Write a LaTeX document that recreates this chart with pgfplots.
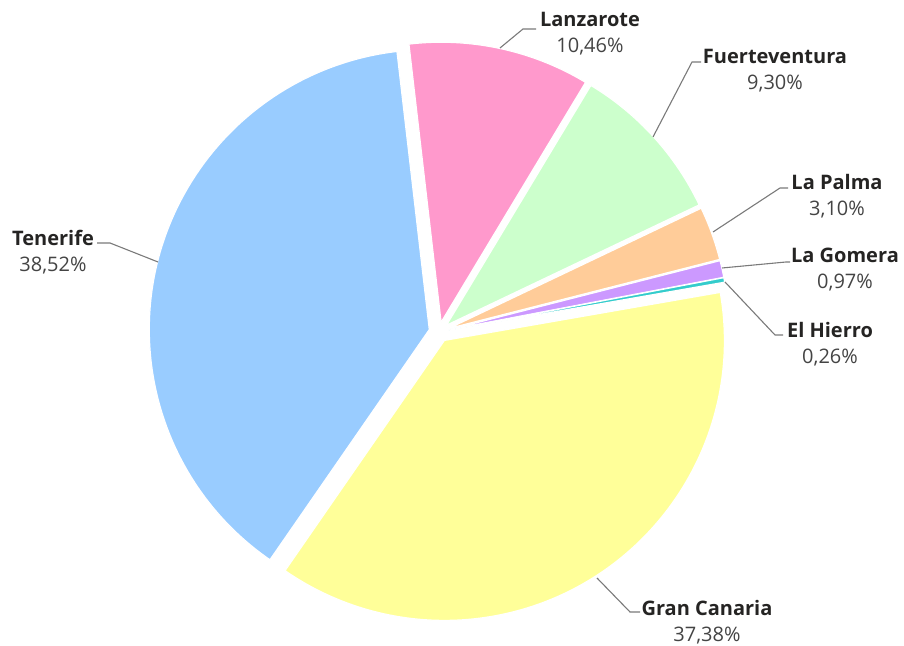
\documentclass[border=0pt]{standalone}
\usepackage{pgfplots}
\usepackage{pgfplotstable}
\pgfplotsset{compat=1.18}
\usepackage{fontspec}
\setmainfont{Open Sans}
\definecolor{cLan}{HTML}{FF99CC}
\definecolor{cFue}{HTML}{CCFFCC}
\definecolor{cPal}{HTML}{FFCC99}
\definecolor{cGom}{HTML}{CC99FF}
\definecolor{cHie}{HTML}{33CCCC}
\definecolor{cGra}{HTML}{FFFF99}
\definecolor{cTen}{HTML}{99CCFF}
\definecolor{nameC}{HTML}{252423}
\definecolor{pctC}{HTML}{444444}
\definecolor{lineC}{HTML}{7A7A7A}

% share of each island (percent), in clockwise order
\pgfplotstableread[col sep=comma]{
name,value,col
Lanzarote,10.46,cLan
Fuerteventura,9.30,cFue
La Palma,3.10,cPal
La Gomera,0.97,cGom
El Hierro,0.26,cHie
Gran Canaria,37.38,cGra
Tenerife,38.52,cTen
}\piedata

\newcommand{\plabel}[4]{%
  \node[font=\fontsize{10}{12}\selectfont\bfseries, text=nameC, anchor=center, inner sep=0pt] at (axis cs:#1,#2) {#3};
  \node[font=\fontsize{10}{12}\selectfont, text=pctC, anchor=center, inner sep=0pt] at (axis cs:#1,#2-28) {#4};
}

\begin{document}
\begin{tikzpicture}
\pgfplotstablegetrowsof{\piedata}
\pgfmathtruncatemacro\nrows{\pgfplotsretval-1}
\begin{axis}[hide axis, scale only axis, width=452pt, height=323pt,
  xmin=0, xmax=904, ymin=0, ymax=646, clip=false]
\path (axis cs:0,0) rectangle (axis cs:904,646);
\def\acc{0}
\pgfplotsforeachungrouped \i in {0,...,\nrows}{%
  \pgfplotstablegetelem{\i}{value}\of{\piedata}\let\val\pgfplotsretval
  \pgfplotstablegetelem{\i}{col}\of{\piedata}\let\col\pgfplotsretval
  \pgfmathsetmacro\astart{96.6-3.6*\acc}
  \pgfmathsetmacro\aend{96.6-3.6*(\acc+\val)}
  \pgfmathsetmacro\amid{(\astart+\aend)/2}
  \pgfmathsetmacro\ox{439+10*cos(\amid)}
  \pgfmathsetmacro\oy{314+10*sin(\amid)}
  \edef\temp{\noexpand\fill[fill=\col, draw=white, line width=0.6pt, line join=round] (axis cs:\ox,\oy) -- ++(\astart:140pt) arc[start angle=\astart, end angle=\aend, radius=140pt] -- cycle;}%
  \temp
  \pgfmathsetmacro\acc{\acc+\val}
}
% leader lines
\draw[lineC, line width=0.55pt] (axis cs:500,598) -- (axis cs:523,617) -- (axis cs:536,617);
\draw[lineC, line width=0.55pt] (axis cs:653,509) -- (axis cs:692,584) -- (axis cs:701,584);
\draw[lineC, line width=0.55pt] (axis cs:713,414) -- (axis cs:780,458) -- (axis cs:788,458);
\draw[lineC, line width=0.55pt] (axis cs:722,378) -- (axis cs:786,384) -- (axis cs:790,384);
\draw[lineC, line width=0.55pt] (axis cs:725,364) -- (axis cs:775,311) -- (axis cs:783,311);
\draw[lineC, line width=0.55pt] (axis cs:597,68) -- (axis cs:630,34) -- (axis cs:640,34);
\draw[lineC, line width=0.55pt] (axis cs:158,384) -- (axis cs:110,403) -- (axis cs:97,403);
% labels
\plabel{590}{627}{Lanzarote}{10,46\%}
\plabel{775}{590}{Fuerteventura}{9,30\%}
\plabel{837}{464}{La Palma}{3,10\%}
\plabel{845}{391}{La Gomera}{0,97\%}
\plabel{830}{316}{El Hierro}{0,26\%}
\plabel{707}{38}{Gran Canaria}{37,38\%}
\plabel{53}{408}{Tenerife}{38,52\%}
\end{axis}
\end{tikzpicture}
\end{document}
